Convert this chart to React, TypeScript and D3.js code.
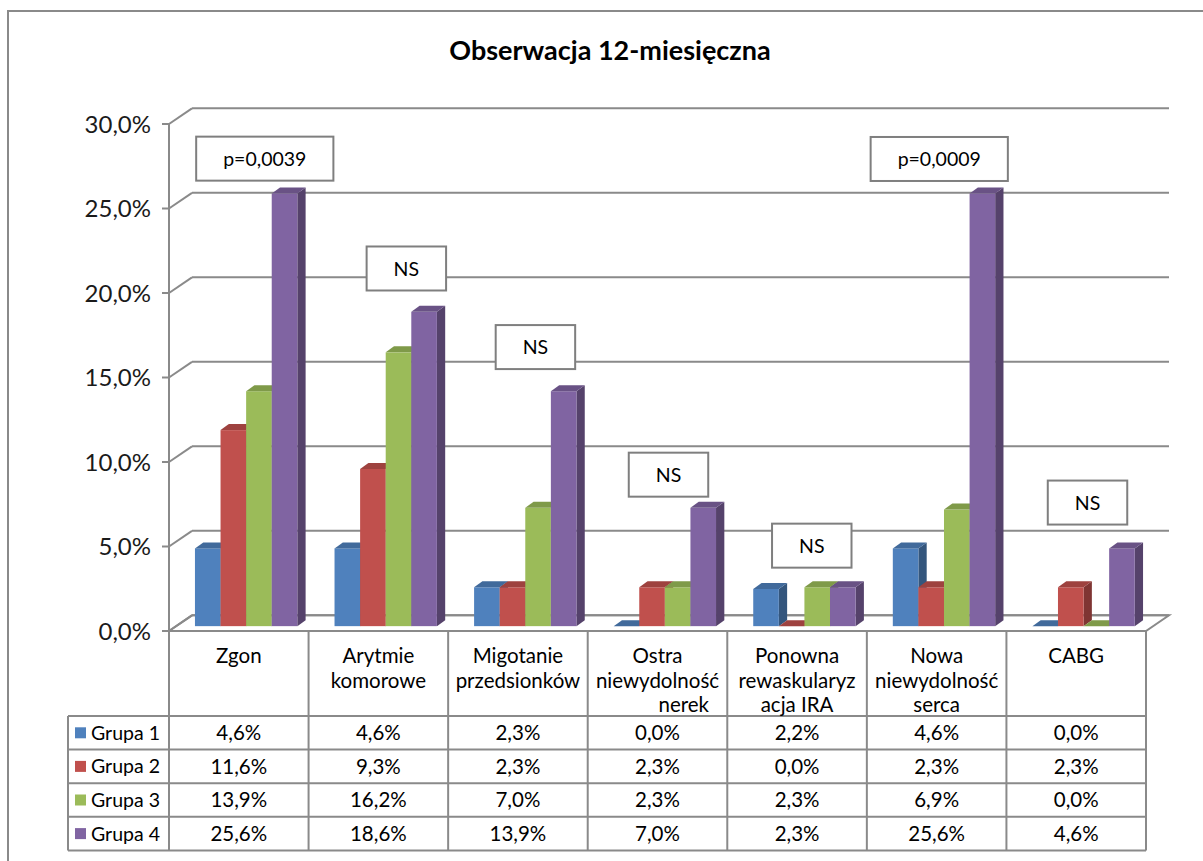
import React from "react";
import * as d3 from "d3";

// Categories (table header lines) and the four group series, in percent
const categories = [
  "Zgon",
  "Arytmie komorowe",
  "Migotanie przedsionków",
  "Ostra niewydolność nerek",
  "Ponowna rewaskularyzacja IRA",
  "Nowa niewydolność serca",
  "CABG",
];
const categoryLines = [
  ["Zgon"],
  ["Arytmie", "komorowe"],
  ["Migotanie", "przedsionków"],
  ["Ostra", "niewydolność", "\u00a0\u00a0\u00a0\u00a0\u00a0\u00a0\u00a0\u00a0\u00a0\u00a0nerek"],
  ["Ponowna", "rewaskularyz", "acja IRA"],
  ["Nowa", "niewydolność", "serca"],
  ["CABG"],
];
const seriesNames = ["Grupa 1", "Grupa 2", "Grupa 3", "Grupa 4"];
const grupa1 = [4.6, 4.6, 2.3, 0.0, 2.2, 4.6, 0.0];
const grupa2 = [11.6, 9.3, 2.3, 2.3, 0.0, 2.3, 2.3];
const grupa3 = [13.9, 16.2, 7.0, 2.3, 2.3, 6.9, 0.0];
const grupa4 = [25.6, 18.6, 13.9, 7.0, 2.3, 25.6, 4.6];
const seriesValues = [grupa1, grupa2, grupa3, grupa4];
const seriesColors = ["#4F81BD", "#C0504D", "#9BBB59", "#8064A2"];
const yTicks = [0, 5, 10, 15, 20, 25, 30];
const significance = ["p=0,0039", "NS", "NS", "NS", "NS", "p=0,0009", "NS"];

// Where each significance box sits: horizontal shift from the category centre (px)
// and the axis level (%) of its vertical centre
const significanceLayout = [
  [26, 27.95],
  [28, 21.45],
  [17.5, 16.8],
  [11, 9.25],
  [14.7, 5.05],
  [2.6, 27.93],
  [11.3, 7.6],
];

const W = 1203;
const H = 861;
const FONT = "Lato, 'Open Sans', sans-serif";
const GRID = "#8a8a8a";

const plotLeft = 169;
const plotRight = 1146;
const floorFront = 631;
const depth = { x: 23, y: -15.7 };
const barDepth = { x: 8.3, y: -6 };
const barShift = { x: (depth.x - barDepth.x) / 2, y: (depth.y - barDepth.y) / 2 };
const headerBottom = 716;
const rowH = 33.6;
const legendLeft = 68;

const plFormat = d3.formatLocale({
  decimal: ",",
  thousands: "\u00a0",
  grouping: [3],
  currency: ["", " zł"],
});
const pct = (v: number) => plFormat.format(".1f")(v) + "%";

function textWidth(text: string, font: string) {
  if (typeof document === "undefined") return text.length * 10;
  const c = document.createElement("canvas").getContext("2d");
  if (!c) return text.length * 10;
  c.font = font;
  return c.measureText(text).width;
}

export default function App() {
  const x = d3.scaleBand<string>().domain(categories).range([plotLeft, plotRight]).paddingInner(0).paddingOuter(0);
  const xs = d3
    .scaleBand<string>()
    .domain(seriesNames)
    .range([0, x.bandwidth()])
    .paddingInner(0)
    .paddingOuter(0.727);
  const y = d3.scaleLinear().domain([0, 30]).range([floorFront, 124]);

  const darker = (c: string, k: number) => d3.color(c)!.darker(k).formatHex();

  const bars: React.ReactNode[] = [];
  categories.forEach((cat, ci) => {
    seriesNames.forEach((s, si) => {
      const v = seriesValues[si][ci];
      const col = seriesColors[si];
      const x0 = (x(cat) ?? 0) + (xs(s) ?? 0) + barShift.x;
      const w = xs.bandwidth();
      const base = y(0) + barShift.y;
      const top = y(v) + barShift.y;
      const dx = barDepth.x;
      const dy = barDepth.y;
      const side = [
        [x0 + w, top],
        [x0 + w + dx, top + dy],
        [x0 + w + dx, base + dy],
        [x0 + w, base],
      ];
      const lid = [
        [x0, top],
        [x0 + dx, top + dy],
        [x0 + w + dx, top + dy],
        [x0 + w, top],
      ];
      bars.push(
        <g key={`${ci}-${si}`}>
          <polygon points={side.map((p) => p.join(",")).join(" ")} fill={darker(col, 1.15)} />
          <rect x={x0} y={top} width={w} height={Math.max(0, base - top)} fill={col} />
          <polygon points={lid.map((p) => p.join(",")).join(" ")} fill={darker(col, 0.55)} />
        </g>
      );
    });
  });

  const tableBottom = headerBottom + rowH * 4;
  const colEdges = categories.map((c) => x(c) ?? 0).concat([plotRight]);

  return (
    <svg
      width={W}
      height={H}
      viewBox={`0 0 ${W} ${H}`}
      style={{ position: "absolute", left: 0, top: 0, background: "#fff", fontFamily: FONT }}
    >
      <rect x={0} y={0} width={W} height={H} fill="#fff" />
      {/* outer chart frame */}
      <path d={`M8,${H} V11 H${W}`} fill="none" stroke={GRID} strokeWidth={2} />

      <text x={610} y={60} textAnchor="middle" fontSize={27} fontWeight={700} fill="#000">
        Obserwacja 12-miesięczna
      </text>

      {/* floor */}
      <polygon
        points={[
          [plotLeft, y(0)],
          [plotRight, y(0)],
          [plotRight + depth.x, y(0) + depth.y],
          [plotLeft + depth.x, y(0) + depth.y],
        ]
          .map((p) => p.join(","))
          .join(" ")}
        fill="#fff"
        stroke={GRID}
        strokeWidth={2}
      />

      {/* back wall gridlines and side wall strokes */}
      {yTicks.map((t) => (
        <g key={t}>
          <line
            x1={plotLeft + depth.x}
            x2={plotRight + depth.x}
            y1={y(t) + depth.y}
            y2={y(t) + depth.y}
            stroke={GRID}
            strokeWidth={2}
          />
          <line x1={plotLeft} y1={y(t)} x2={plotLeft + depth.x} y2={y(t) + depth.y} stroke={GRID} strokeWidth={2} />
          <line x1={plotLeft - 7} x2={plotLeft} y1={y(t)} y2={y(t)} stroke={GRID} strokeWidth={2} />
          <text x={151} y={y(t)} dy="0.36em" textAnchor="end" fontSize={24} fill="#1a1a1a">
            {pct(t)}
          </text>
        </g>
      ))}

      {/* front axis line running into the data table */}
      <line x1={plotLeft} x2={plotLeft} y1={y(30)} y2={tableBottom} stroke={GRID} strokeWidth={2} />

      {bars}

      {/* significance boxes */}
      {significance.map((txt, i) => {
        const [dx, lvl] = significanceLayout[i];
        const cx = (x(categories[i]) ?? 0) + x.bandwidth() / 2 + dx;
        const cy = y(lvl);
        const bw = textWidth(txt, `19.5px ${FONT}`) + 54;
        const bh = 44;
        return (
          <g key={i}>
            <rect x={cx - bw / 2} y={cy - bh / 2} width={bw} height={bh} fill="#fff" stroke="#7f7f7f" strokeWidth={2} />
            <text x={cx} y={cy} dy="0.36em" textAnchor="middle" fontSize={19.5} fill="#000">
              {txt}
            </text>
          </g>
        );
      })}

      {/* data table */}
      <g stroke={GRID} strokeWidth={2}>
        {colEdges.slice(1).map((cx, i) => (
          <line key={`v${i}`} x1={cx} x2={cx} y1={floorFront} y2={tableBottom} />
        ))}
        <line x1={legendLeft} x2={legendLeft} y1={headerBottom} y2={tableBottom} />
        {d3.range(5).map((r) => (
          <line
            key={`h${r}`}
            x1={legendLeft}
            x2={plotRight}
            y1={headerBottom + r * rowH}
            y2={headerBottom + r * rowH}
          />
        ))}
      </g>

      {categoryLines.map((lines, ci) => (
        <text
          key={`c${ci}`}
          x={(x(categories[ci]) ?? 0) + x.bandwidth() / 2}
          textAnchor="middle"
          fontSize={20.5}
          fill="#000"
        >
          {lines.map((ln, li) => (
            <tspan key={li} x={(x(categories[ci]) ?? 0) + x.bandwidth() / 2} y={663 + li * 24.5}>
              {ln}
            </tspan>
          ))}
        </text>
      ))}

      {seriesNames.map((s, si) => {
        const ry = headerBottom + si * rowH;
        return (
          <g key={`r${si}`}>
            <rect x={75} y={ry + rowH / 2 - 5.5} width={11} height={11} fill={seriesColors[si]} />
            <text x={91} y={ry + rowH / 2} dy="0.36em" fontSize={19.5} fill="#000">
              {s}
            </text>
            {categories.map((c, ci) => (
              <text
                key={ci}
                x={(x(c) ?? 0) + x.bandwidth() / 2}
                y={ry + rowH / 2}
                dy="0.36em"
                textAnchor="middle"
                fontSize={20.5}
                fill="#000"
              >
                {pct(seriesValues[si][ci])}
              </text>
            ))}
          </g>
        );
      })}
    </svg>
  );
}
